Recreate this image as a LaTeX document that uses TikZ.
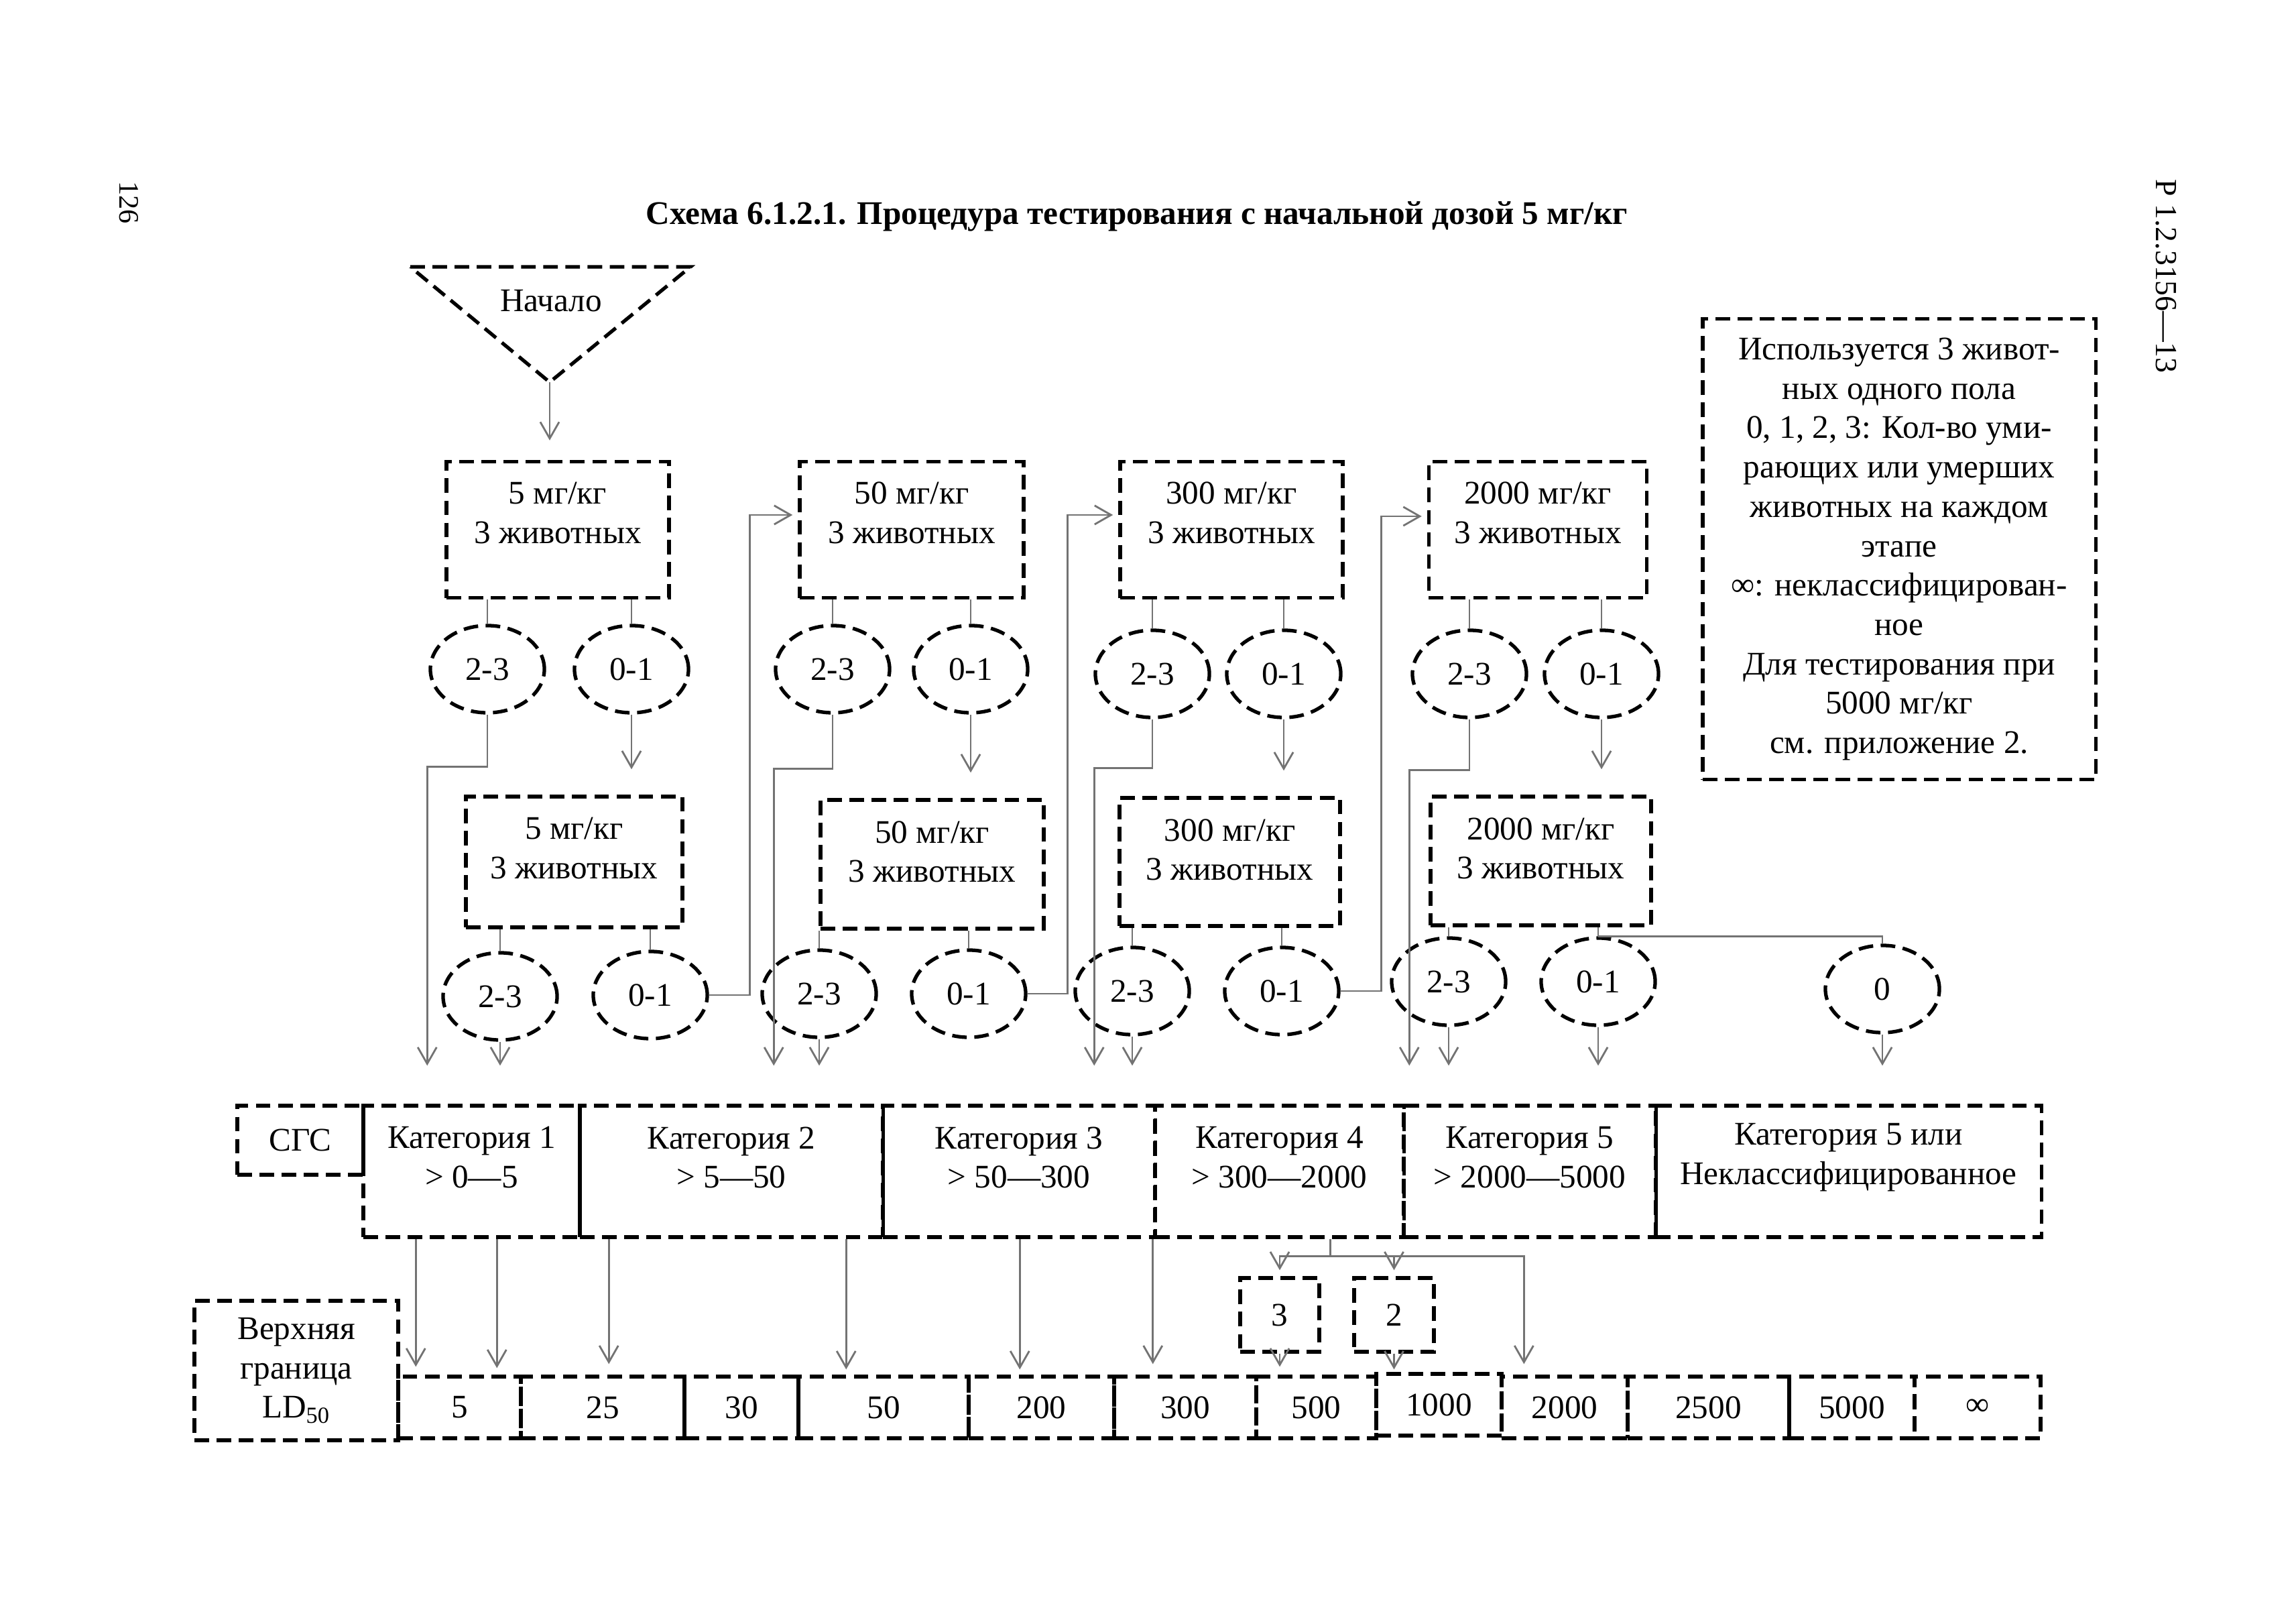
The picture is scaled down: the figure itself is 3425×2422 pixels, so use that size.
\documentclass[tikz,border=0pt]{standalone}
\usepackage{fontspec}
\setmainfont{Liberation Serif}
\usetikzlibrary{shapes.geometric,arrows.meta,calc}
\begin{document}
\begin{tikzpicture}[x=0.01cm,y=-0.01cm,
  every node/.style={font=\fontsize{14}{16.7}\selectfont},
  dsh/.style={line width=1.5pt, dash pattern=on 6.2pt off 3.2pt},
  box/.style={draw, dsh, rectangle, inner sep=0pt},
  oval/.style={draw, dsh, ellipse, minimum width=1.70cm, minimum height=1.30cm, inner sep=0pt},
  conn/.style={draw=black!55, line width=0.8pt},
  arr/.style={conn, -{Straight Barb[length=7pt,width=8pt]}},
  txt/.style={align=center, inner sep=0pt}
]
\useasboundingbox (0,0) rectangle (3425,2422);

% page header
\node[font=\fontsize{12}{14}\selectfont, rotate=-90] (pnum) at (192,302) {126};
\node[font=\fontsize{13}{15}\selectfont, rotate=-90] (hdr) at (3231,412) {Р 1.2.3156—13};
\node[font=\fontsize{14}{16.7}\selectfont\bfseries] (title) at (1696,323) {Схема 6.1.2.1. Процедура тестирования с начальной дозой 5 мг/кг};

% start triangle
\coordinate (tl) at (612,398);
\coordinate (tr) at (1030,398);
\coordinate (apex) at (820,570);
\draw[dsh] (tl) -- (tr) -- (apex) -- cycle;
\node[txt] (start) at (822,449) {Начало};

% first-stage dose boxes
\node[box, minimum width=3.32cm, minimum height=2.03cm] (b1) at (832,790) {};
\node[box, minimum width=3.34cm, minimum height=2.03cm] (b2) at (1360,790) {};
\node[box, minimum width=3.32cm, minimum height=2.03cm] (b3) at (1837,790) {};
\node[box, minimum width=3.25cm, minimum height=2.03cm] (b4) at (2294,790) {};
\node[txt] (b1t) at ($(b1.north)+(0,79)$) {5 мг/кг\\3 животных};
\node[txt] (b2t) at ($(b2.north)+(0,79)$) {50 мг/кг\\3 животных};
\node[txt] (b3t) at ($(b3.north)+(0,79)$) {300 мг/кг\\3 животных};
\node[txt] (b4t) at ($(b4.north)+(0,79)$) {2000 мг/кг\\3 животных};

% first-stage outcomes
\node[oval] (e1a) at (727,998) {2-3};
\node[oval] (e1b) at (942,998) {0-1};
\node[oval] (e2a) at (1242,998) {2-3};
\node[oval] (e2b) at (1448,998) {0-1};
\node[oval] (e3a) at (1719,1005) {2-3};
\node[oval] (e3b) at (1915,1005) {0-1};
\node[oval] (e4a) at (2192,1005) {2-3};
\node[oval] (e4b) at (2389,1005) {0-1};

% second-stage dose boxes
\node[box, minimum width=3.23cm, minimum height=1.95cm] (c1) at (856.5,1285.5) {};
\node[box, minimum width=3.33cm, minimum height=1.92cm] (c2) at (1390.5,1289) {};
\node[box, minimum width=3.29cm, minimum height=1.91cm] (c3) at (1834.5,1285.5) {};
\node[box, minimum width=3.29cm, minimum height=1.92cm] (c4) at (2298.5,1284) {};
\node[txt] (c1t) at ($(c1.north)+(0,80)$) {5 мг/кг\\3 животных};
\node[txt] (c2t) at ($(c2.north)+(0,80)$) {50 мг/кг\\3 животных};
\node[txt] (c3t) at ($(c3.north)+(0,80)$) {300 мг/кг\\3 животных};
\node[txt] (c4t) at ($(c4.north)+(0,80)$) {2000 мг/кг\\3 животных};

% second-stage outcomes
\node[oval] (f1a) at (746,1486) {2-3};
\node[oval] (f1b) at (970,1484) {0-1};
\node[oval] (f2a) at (1222,1482) {2-3};
\node[oval] (f2b) at (1445,1482) {0-1};
\node[oval] (f3a) at (1689,1478) {2-3};
\node[oval] (f3b) at (1912,1478) {0-1};
\node[oval] (f4a) at (2161,1464) {2-3};
\node[oval] (f4b) at (2384,1464) {0-1};
\node[oval] (f5) at (2808,1475) {0};

% legend
\node[box, minimum width=5.86cm, minimum height=6.86cm, align=center] (legend) at (2833,819)
 {Используется 3 живот-\\ных одного пола\\0, 1, 2, 3: Кол-во уми-\\рающих или умерших\\животных на каждом\\этапе\\∞: неклассифицирован-\\ное\\Для тестирования при\\5000 мг/кг\\см. приложение 2.};

% categories
\node[box, minimum width=1.88cm, minimum height=1.03cm] (k0) at (448,1700.5) {СГС};
\node[box, minimum width=3.23cm, minimum height=1.96cm] (k1) at (703.5,1747) {};
\node[box, minimum width=4.52cm, minimum height=1.96cm] (k2) at (1091,1747) {};
\node[box, minimum width=4.06cm, minimum height=1.96cm] (k3) at (1520,1747) {};
\node[box, minimum width=3.71cm, minimum height=1.96cm] (k4) at (1908.5,1747) {};
\node[box, minimum width=3.76cm, minimum height=1.96cm] (k5) at (2282,1747) {};
\node[box, minimum width=5.75cm, minimum height=1.96cm] (k6) at (2757.5,1747) {};
\node[txt] (k1t) at ($(k1.north)+(0,80)$) {Категория 1\\> 0—5};
\node[txt] (k2t) at ($(k2.north)+(0,80)$) {Категория 2\\> 5—50};
\node[txt] (k3t) at ($(k3.north)+(0,80)$) {Категория 3\\> 50—300};
\node[txt] (k4t) at ($(k4.north)+(0,80)$) {Категория 4\\> 300—2000};
\node[txt] (k5t) at ($(k5.north)+(0,80)$) {Категория 5\\> 2000—5000};
\node[txt] (k6t) at ($(k6.north)+(0,80)$) {Категория 5 или\\Неклассифицированное};

% boxes 3 and 2
\node[box, minimum width=1.18cm, minimum height=1.10cm] (bx3) at (1909,1961) {3};
\node[box, minimum width=1.19cm, minimum height=1.10cm] (bx2) at (2079.5,1961) {2};

% LD50 row
\node[box, minimum width=3.04cm, minimum height=2.08cm, align=center] (lhdr) at (442,2044) {Верхняя\\граница\\LD\textsubscript{50}};
\node[box, minimum width=1.83cm, minimum height=0.92cm] (l5) at (685.5,2099) {5};
\node[box, minimum width=2.44cm, minimum height=0.92cm] (l25) at (899,2099) {25};
\node[box, minimum width=1.70cm, minimum height=0.92cm] (l30) at (1106,2099) {30};
\node[box, minimum width=2.54cm, minimum height=0.92cm] (l50) at (1318,2099) {50};
\node[box, minimum width=2.17cm, minimum height=0.92cm] (l200) at (1553.5,2099) {200};
\node[box, minimum width=2.12cm, minimum height=0.92cm] (l300) at (1768,2099) {300};
\node[box, minimum width=1.79cm, minimum height=0.92cm] (l500) at (1963.5,2099) {500};
\node[box, minimum width=1.87cm, minimum height=0.92cm] (l1000) at (2146.5,2095) {1000};
\node[box, minimum width=1.88cm, minimum height=0.92cm] (l2000) at (2334,2099) {2000};
\node[box, minimum width=2.41cm, minimum height=0.92cm] (l2500) at (2548.5,2099) {2500};
\node[box, minimum width=1.87cm, minimum height=0.92cm] (l5000) at (2762.5,2099) {5000};
\node[box, minimum width=1.88cm, minimum height=0.92cm] (linf) at (2950,2099) {∞};

% ---------- connectors ----------
\draw[arr, shorten >=0.29cm] (apex) -- (apex |- b1.north);

\foreach \e/\b in {e1a/b1,e1b/b1,e2a/b2,e2b/b2,e3a/b3,e3b/b3,e4a/b4,e4b/b4,
                   f1a/c1,f1b/c1,f2a/c2,f2b/c2,f3a/c3,f3b/c3,f4a/c4,f4b/c4}
  \draw[conn] (\e.north) -- (\e.north |- \b.south);

\foreach \e/\c in {e1b/c1,e2b/c2,e3b/c3,e4b/c4}
  \draw[arr, shorten >=0.38cm] (\e.south) -- (\e.south |- \c.north);

\draw[arr] (e1a.south) -- ++(0,78) -| ($(k1.north west)+(98,-57)$);
\draw[arr] (e2a.south) -- ++(0,81) -| ($(k2.north west)+(292,-57)$);
\draw[arr] (e3a.south) -- ++(0,73) -| ($(k3.north west)+(318,-57)$);
\draw[arr] (e4a.south) -- ++(0,76) -| ($(k5.north west)+(11,-57)$);

\foreach \e/\k in {f1a/k1,f2a/k2,f3a/k3,f4a/k5,f4b/k5,f5/k6}
  \draw[arr, shorten >=0.57cm] (\e.south) -- (\e.south |- \k.north);

\draw[arr, shorten >=0.08cm] (f1b.east) -| ($(b2.west)+(-72,-22)$) -- ($(b2.west)+(0,-22)$);
\draw[arr, shorten >=0.08cm] (f2b.east) -| ($(b3.west)+(-76,-22)$) -- ($(b3.west)+(0,-22)$);
\draw[arr, shorten >=0.08cm] (f3b.east) -| ($(b4.west)+(-68,-20)$) -- ($(b4.west)+(0,-20)$);

\draw[conn] (f4b.north) -| (f5.north);

% categories to LD50
\coordinate (q1) at ($(k1.south west)+(81,0)$);
\coordinate (q2) at ($(k1.south west)+(202,0)$);
\coordinate (q3) at ($(k2.south west)+(46,0)$);
\coordinate (q4) at ($(k2.south west)+(400,0)$);
\coordinate (q5) at ($(k3.south west)+(207,0)$);
\coordinate (q6) at ($(k3.south east)+(-6,0)$);
\draw[arr, shorten >=0.12cm] (q1) -- (q1 |- l5.north);
\draw[arr, shorten >=0.10cm] (q2) -- (q2 |- l5.north);
\draw[arr, shorten >=0.16cm] (q3) -- (q3 |- l25.north);
\draw[arr, shorten >=0.08cm] (q4) -- (q4 |- l50.north);
\draw[arr, shorten >=0.08cm] (q5) -- (q5 |- l200.north);
\draw[arr, shorten >=0.16cm] (q6) -- (q6 |- l300.north);

\coordinate (k4s) at ($(k4.south west)+(264,26)$);
\draw[conn] (k4s |- k4.south) -- (k4s);
\draw[arr, shorten >=0.09cm] (k4s) -| (bx3.north);
\draw[arr, shorten >=0.09cm] (k4s) -| (bx2.north);
\draw[arr, shorten >=0.16cm] (k4s) -| ($(l2000.north west)+(36,0)$);
\draw[arr, shorten >=0.12cm] (bx3.south) -- (bx3.south |- l500.north);
\draw[arr, shorten >=0.04cm] (bx2.south) -- (bx2.south |- l1000.north);
\end{tikzpicture}
\end{document}
